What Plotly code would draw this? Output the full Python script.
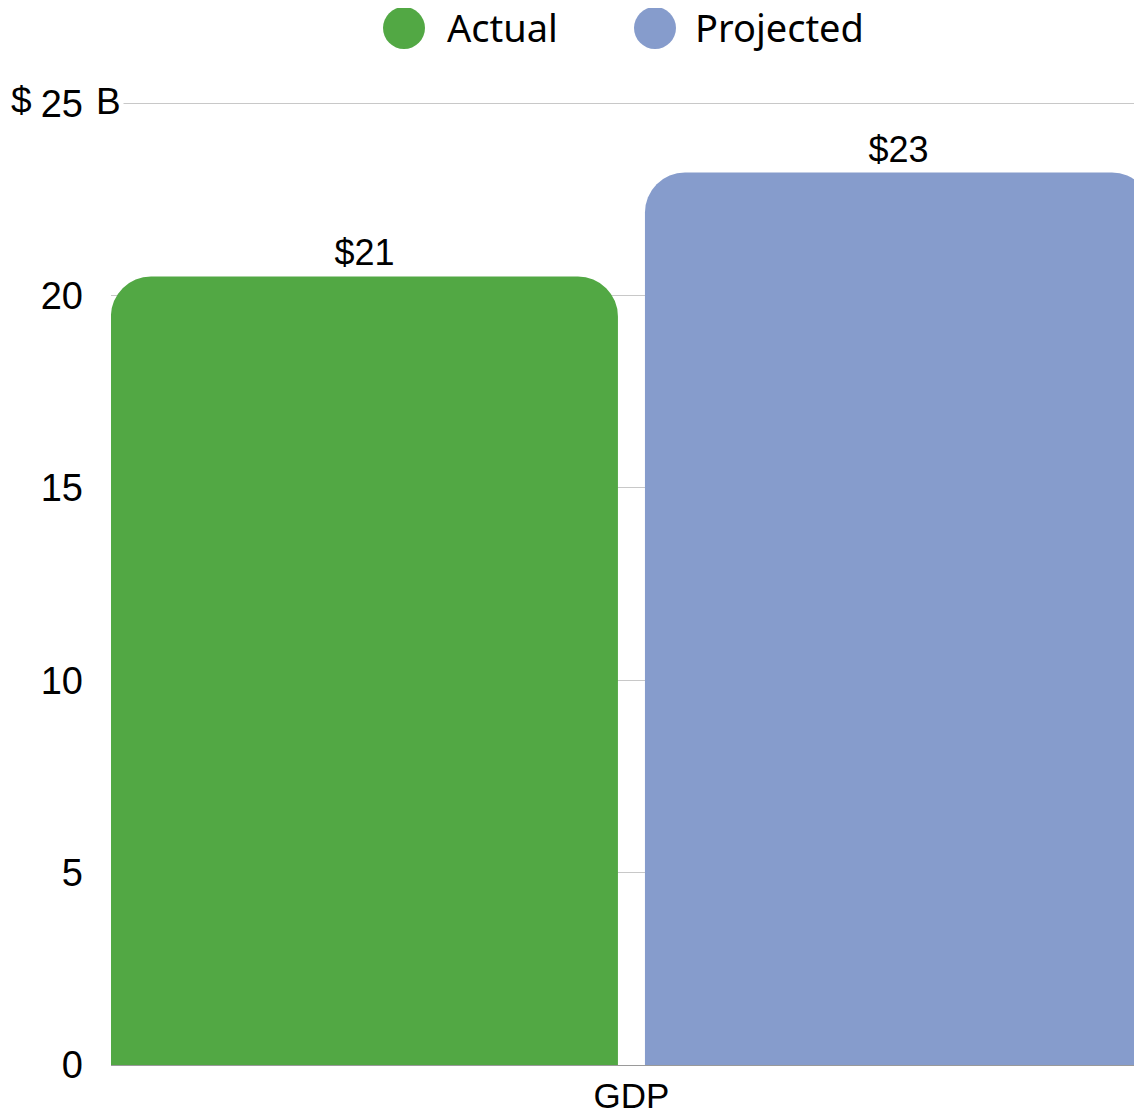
import plotly.graph_objects as go

# chart values
category = ["GDP"]
series = ["Actual", "Projected"]
actual = [20.5]
projected = [23.2]
value_labels = [["$21"], ["$23"]]
y_ticks = [0, 5, 10, 15, 20, 25]
colors = ["#52A844", "#869CCC"]

# page has an 8px body margin, keep the figure inside the window
PAGE = 8
W, H = 1142 - 2 * PAGE, 1117 - 2 * PAGE
ML, MR, MT, MB = 103, 0, 93, 44
plot_w = W - ML - MR
plot_h = H - MT - MB

fig = go.Figure()
for name, vals, labels, col in zip(series, [actual, projected], value_labels, colors):
    fig.add_trace(go.Bar(
        x=category, y=vals, name=name,
        marker=dict(color=col, cornerradius=40, line=dict(width=0)),
        text=labels, textposition="outside",
        textfont=dict(size=36, color="black", family="Liberation Sans"),
        showlegend=False, cliponaxis=False,
    ))

# helpers: reference page pixels -> paper coords
def px_x(px):
    return (px - PAGE - ML) / plot_w

def px_y(py):
    return (H - MB - (py - PAGE)) / plot_h

# legend drawn as circles + text on top
legend_items = [(404, 445), (655, 693)]
shapes = []
annotations = []
for (cx, tx), name, col in zip(legend_items, series, colors):
    shapes.append(dict(
        type="circle", xref="paper", yref="paper",
        xsizemode="pixel", ysizemode="pixel",
        xanchor=px_x(cx), yanchor=px_y(28),
        x0=-21, x1=21, y0=-21, y1=21,
        fillcolor=col, line=dict(width=0),
    ))
    annotations.append(dict(
        text=name, xref="paper", yref="paper",
        x=px_x(tx), y=px_y(27),
        xanchor="left", yanchor="middle", showarrow=False,
        font=dict(size=38, color="black", family="Noto Sans"),
    ))

# "$ ... B" around the top tick
annotations.append(dict(text="$", xref="paper", yref="paper",
                        x=px_x(21), y=px_y(100),
                        xanchor="center", yanchor="middle", showarrow=False,
                        font=dict(size=37, color="black", family="Liberation Sans")))
annotations.append(dict(text="B", xref="paper", yref="paper",
                        x=px_x(93), y=px_y(101),
                        xanchor="left", yanchor="middle", showarrow=False,
                        bgcolor="white", borderpad=2,
                        font=dict(size=37, color="black", family="Liberation Sans")))

fig.update_layout(
    width=W, height=H,
    margin=dict(l=ML, r=MR, t=MT, b=MB),
    barmode="group", bargap=0, bargroupgap=0.0506,
    plot_bgcolor="white", paper_bgcolor="white",
    font=dict(family="Liberation Sans", size=37, color="black"),
    shapes=shapes, annotations=annotations,
    xaxis=dict(range=[-0.4873, -0.4873 + plot_w / 1068], showgrid=False,
               showline=True, linecolor="#9a9a9a", linewidth=1, ticks="",
               layer="below traces", automargin=False,
               tickfont=dict(size=35), ticklabelstandoff=0),
    yaxis=dict(range=[0, 25.06], tickvals=y_ticks, showgrid=True,
               gridcolor="#c8c8c8", gridwidth=1, zeroline=False,
               showline=False, ticks="", automargin=False,
               tickfont=dict(size=38), ticklabelstandoff=27),
)

fig.write_html("out.html")
